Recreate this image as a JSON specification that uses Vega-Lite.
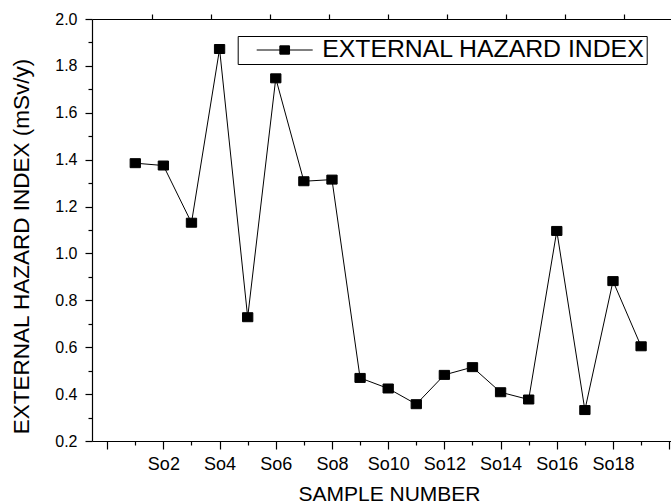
{
  "$schema": "https://vega.github.io/schema/vega-lite/v6.json",
  "width": 580,
  "height": 422,
  "autosize": {"type": "none"},
  "padding": {"left": 92, "top": 19, "right": 0, "bottom": 63},
  "background": "white",
  "config": {
    "view": {"stroke": null},
    "font": "Liberation Sans",
    "axis": {
      "grid": false,
      "domainColor": "black",
      "domainWidth": 1.2,
      "tickColor": "black",
      "tickWidth": 1.2,
      "labelColor": "black",
      "titleColor": "black",
      "labelFont": "Liberation Sans",
      "titleFont": "Liberation Sans",
      "titleFontWeight": "normal"
    }
  },
  "data": {
    "values": [
      {"sample": "So1", "n": 1, "ehi": 1.385},
      {"sample": "So2", "n": 2, "ehi": 1.375},
      {"sample": "So3", "n": 3, "ehi": 1.131},
      {"sample": "So4", "n": 4, "ehi": 1.872},
      {"sample": "So5", "n": 5, "ehi": 0.728},
      {"sample": "So6", "n": 6, "ehi": 1.747},
      {"sample": "So7", "n": 7, "ehi": 1.308},
      {"sample": "So8", "n": 8, "ehi": 1.315},
      {"sample": "So9", "n": 9, "ehi": 0.469},
      {"sample": "So10", "n": 10, "ehi": 0.424},
      {"sample": "So11", "n": 11, "ehi": 0.357},
      {"sample": "So12", "n": 12, "ehi": 0.482},
      {"sample": "So13", "n": 13, "ehi": 0.515},
      {"sample": "So14", "n": 14, "ehi": 0.408},
      {"sample": "So15", "n": 15, "ehi": 0.377},
      {"sample": "So16", "n": 16, "ehi": 1.096},
      {"sample": "So17", "n": 17, "ehi": 0.332},
      {"sample": "So18", "n": 18, "ehi": 0.882},
      {"sample": "So19", "n": 19, "ehi": 0.604}
    ]
  },
  "encoding": {
    "y": {
      "field": "ehi",
      "type": "quantitative",
      "scale": {"domain": [0.2, 2.0], "nice": false, "zero": false},
      "axis": {
        "values": [0.2, 0.3, 0.4, 0.5, 0.6, 0.7, 0.8, 0.9, 1.0, 1.1, 1.2, 1.3, 1.4, 1.5, 1.6, 1.7, 1.8, 1.9, 2.0],
        "labelExpr": "round(datum.value * 10) % 2 === 0 ? format(datum.value, '.1f') : ''",
        "tickSize": {"condition": {"test": "round(datum.value * 10) % 2 === 0", "value": 7}, "value": 4},
        "labelPadding": 8,
        "labelFontSize": 16,
        "labelOverlap": false,
        "labelFlush": false,
        "title": "EXTERNAL HAZARD INDEX (mSv/y)",
        "titleFontSize": 22.5,
        "titleAngle": -90,
        "titleAlign": "center",
        "titleBaseline": "alphabetic",
        "titleX": -64,
        "titleY": 227
      }
    }
  },
  "layer": [
    {
      "mark": {"type": "line", "color": "black", "strokeWidth": 1},
      "encoding": {
        "x": {
          "field": "n",
          "type": "quantitative",
          "scale": {"domain": [-0.54, 20.1], "nice": false, "zero": false},
          "axis": {
            "orient": "bottom",
            "values": [0, 1, 2, 3, 4, 5, 6, 7, 8, 9, 10, 11, 12, 13, 14, 15, 16, 17, 18, 19, 20],
            "labelExpr": "datum.value % 2 === 0 && datum.value > 0 && datum.value < 20 ? 'So' + datum.value : ''",
            "tickSize": {"condition": {"test": "datum.value % 2 === 0", "value": 8}, "value": 4},
            "labelPadding": 6,
            "labelFontSize": 18,
            "labelOverlap": false,
            "labelFlush": false,
            "title": "SAMPLE NUMBER",
            "titleFontSize": 21,
            "titleAlign": "center",
            "titleBaseline": "alphabetic",
            "titleX": 297,
            "titleY": 59
          }
        }
      }
    },
    {
      "mark": {
        "type": "point",
        "filled": true,
        "opacity": 1,
        "shape": "M-1.03,-0.9H1.03V0.9H-1.03Z",
        "size": 100,
        "stroke": "black",
        "strokeWidth": 1
      },
      "encoding": {
        "x": {
          "field": "n",
          "type": "quantitative",
          "axis": {
            "orient": "top",
            "values": [1.6, 3.7, 5.8, 7.9, 10.0, 12.1, 14.2, 16.3, 18.4],
            "labels": true,
            "labelColor": "white",
            "labelFontSize": 6,
            "domain": true,
            "domainColor": "black",
            "tickColor": "black",
            "ticks": true,
            "tickSize": 5,
            "title": null
          }
        },
        "color": {
          "datum": "EXTERNAL HAZARD INDEX",
          "scale": {"range": ["black"]},
          "legend": {
            "orient": "none",
            "legendX": 145.7,
            "legendY": 17,
            "title": null,
            "symbolType": "M-1,0H1M-0.173,-0.148H0.173V0.148H-0.173Z",
            "symbolSize": 3136,
            "symbolStrokeWidth": 1,
            "symbolStrokeColor": "black",
            "symbolFillColor": "black",
            "symbolOpacity": 1,
            "labelFontSize": 24.8,
            "labelFont": "Liberation Sans",
            "labelColor": "black",
            "labelLimit": 1000,
            "labelOffset": 9,
            "symbolOffset": 16.5,
            "padding": 2,
            "clipHeight": 24,
            "strokeColor": "black",
            "fillColor": "white"
          }
        }
      }
    }
  ],
  "resolve": {"axis": {"x": "independent"}}
}
